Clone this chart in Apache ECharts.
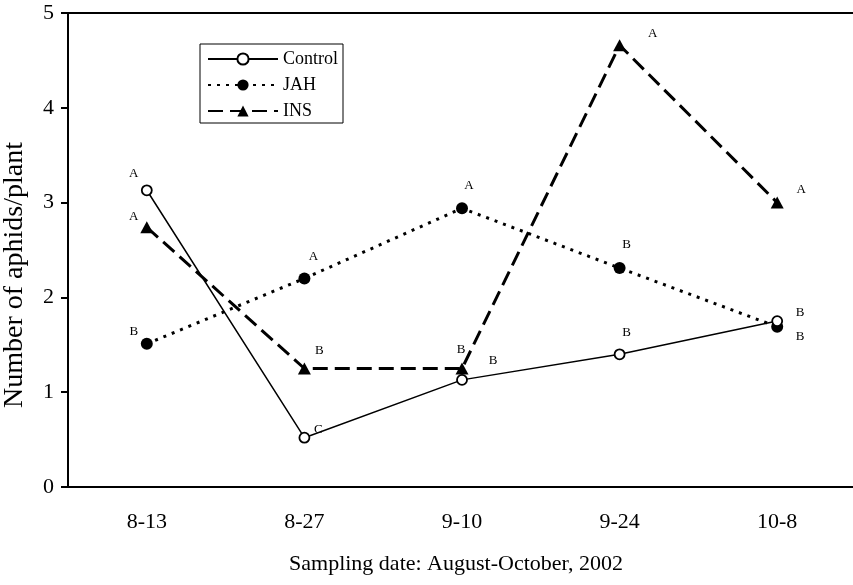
<!DOCTYPE html>
<html>
<head>
<meta charset="utf-8">
<script src="https://cdn.jsdelivr.net/npm/echarts@6/dist/echarts.min.js"></script>
<style>
  html, body { margin: 0; padding: 0; background: #fff; overflow: hidden; width: 853px; height: 585px; }
  /* the plot runs past the right edge of the page, so the drawing surface is wider than the view */
  #chart { width: 900px; height: 585px; }
</style>
</head>
<body>
<div id="chart"></div>
<script>
// Sampling dates and mean aphid counts per plant
const dates = ['8-13', '8-27', '9-10', '9-24', '10-8'];
const controlValues = [3.13, 0.52, 1.13, 1.40, 1.75];
const jahValues = [1.51, 2.20, 2.94, 2.31, 1.69];
const insValues = [2.74, 1.25, 1.25, 4.66, 3.00];

// Significance letters for each treatment on each date
const controlLetters = ['A', 'C', 'B', 'B', 'B'];
const jahLetters = ['B', 'A', 'A', 'B', 'B'];
const insLetters = ['A', 'B', 'B', 'A', 'A'];

const yTicks = [0, 1, 2, 3, 4, 5];

// Letter placement relative to each marker, in pixels
const controlLetterOffsets = [[-13, -17], [14, -8], [31, -19], [7, -22], [23, -9]];
const jahLetterOffsets = [[-13, -12], [9, -22], [7, -23], [7, -23], [23, 10]];
const insLetterOffsets = [[-13, -11], [15, -18], [-1, -19], [33, -12], [24, -13]];

const serif = "'Liberation Serif', 'Times New Roman', 'DejaVu Serif', serif";

function withLetters(values, letters, offsets) {
  return values.map((v, i) => ({
    value: v,
    label: { formatter: letters[i], offset: offsets[i] }
  }));
}

const letterLabel = {
  show: true,
  position: 'inside',
  align: 'center',
  verticalAlign: 'middle',
  color: '#000',
  fontFamily: serif,
  fontSize: 13
};

const chart = echarts.init(document.getElementById('chart'), null, { renderer: 'canvas' });

chart.setOption({
  animation: false,
  backgroundColor: '#fff',
  textStyle: { fontFamily: serif, color: '#000' },
  grid: {
    left: 68,
    top: 13,
    width: 788,
    height: 474,
    containLabel: false,
    outerBoundsMode: 'none',
    show: false
  },
  legend: {
    orient: 'vertical',
    left: 200,
    top: 44,
    padding: [6, 5, 3, 7],
    itemGap: 8,
    itemWidth: 70,
    itemHeight: 14,
    borderColor: '#000',
    borderWidth: 1,
    backgroundColor: '#fff',
    textStyle: { fontFamily: serif, fontSize: 18, color: '#000' },
    data: ['Control', 'JAH', 'INS']
  },
  xAxis: [
    {
      type: 'category',
      data: dates,
      boundaryGap: true,
      name: 'Sampling date: August-October, 2002',
      nameLocation: 'middle',
      nameGap: 66,
      nameTextStyle: { fontFamily: serif, fontSize: 22, color: '#000', padding: [0, 12, 0, 0] },
      axisLine: { lineStyle: { color: '#000', width: 2 } },
      axisTick: { show: false },
      axisLabel: { margin: 24, fontFamily: serif, fontSize: 22, color: '#000' },
      splitLine: { show: false }
    },
    {
      // frame line along the top of the plot
      type: 'category',
      data: dates,
      position: 'top',
      axisLine: { lineStyle: { color: '#000', width: 2 } },
      axisTick: { show: false },
      axisLabel: { show: false },
      splitLine: { show: false }
    }
  ],
  yAxis: {
    type: 'value',
    min: yTicks[0],
    max: yTicks[yTicks.length - 1],
    interval: 1,
    name: 'Number of aphids/plant',
    nameLocation: 'middle',
    nameGap: 39,
    nameTextStyle: { fontFamily: serif, fontSize: 28, color: '#000', padding: [0, 50, 0, 0] },
    axisLine: { show: true, lineStyle: { color: '#000', width: 2 } },
    axisTick: { show: true, length: 7, lineStyle: { color: '#000', width: 2 } },
    axisLabel: { margin: 14, fontFamily: serif, fontSize: 22, color: '#000' },
    splitLine: { show: false }
  },
  series: [
    {
      name: 'Control',
      type: 'line',
      data: withLetters(controlValues, controlLetters, controlLetterOffsets),
      symbol: 'circle',
      symbolSize: 10,
      showAllSymbol: true,
      itemStyle: { color: '#fff', borderColor: '#000', borderWidth: 1.8 },
      lineStyle: { color: '#000', width: 1.5, type: 'solid' },
      label: letterLabel,
      z: 3
    },
    {
      name: 'JAH',
      type: 'line',
      data: withLetters(jahValues, jahLetters, jahLetterOffsets),
      symbol: 'circle',
      symbolSize: 12,
      itemStyle: { color: '#000', borderColor: '#000', borderWidth: 0 },
      lineStyle: { color: '#000', width: 3, type: [3, 6] },
      label: letterLabel,
      z: 2
    },
    {
      name: 'INS',
      type: 'line',
      data: withLetters(insValues, insLetters, insLetterOffsets),
      symbol: 'triangle',
      symbolSize: [13, 12],
      itemStyle: { color: '#000', borderColor: '#000', borderWidth: 0 },
      lineStyle: { color: '#000', width: 3, type: [15, 7] },
      label: letterLabel,
      z: 2
    }
  ]
});
</script>
</body>
</html>
